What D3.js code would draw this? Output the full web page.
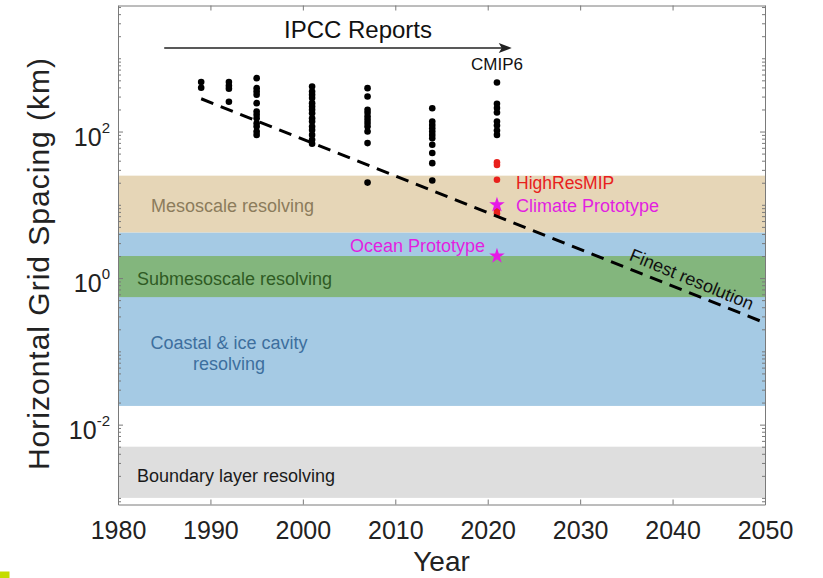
<!DOCTYPE html>
<html>
<head>
<meta charset="utf-8">
<script src="https://cdn.jsdelivr.net/npm/d3@7"></script>
<style>
  body { margin: 0; background: #fff; }
  svg text { font-family: "Liberation Sans", Arial, Helvetica, sans-serif; }
</style>
</head>
<body>
<svg id="chart" width="823" height="578"></svg>
<script>
// ---- data ----
const yearTicks = [1980, 1990, 2000, 2010, 2020, 2030, 2040, 2050];
const labelledExponents = [-2, 0, 2];

// CMIP model resolutions (km) per IPCC report year
const reportYears = [1989, 1992, 1995, 2001, 2007, 2014, 2021];
const cmipSpacing = [
  [475, 395],
  [475, 420, 385, 255],
  [535, 391, 351, 317, 244, 187, 169, 152, 130, 117, 100, 90],
  [411, 351, 317, 286, 244, 219, 198, 178, 152, 137, 117, 105, 90, 77, 68],
  [391, 300, 198, 180, 160, 145, 131, 117, 100, 69.5, 20.1],
  [208, 137, 123, 111, 100, 90, 81, 66, 51, 37, 21.5],
  [466, 239, 209, 182, 137, 121, 103, 90]
];

const highResYear = 2021;
const highResSpacing = [38, 35, 22, 8.3, 7.6];

const prototypeNames = ["Climate Prototype", "Ocean Prototype"];
const prototypeYear = 2021;
const prototypeSpacing = [10, 2];

// resolution regimes (km)
const regimeNames = ["Coastal & ice cavity resolving", "Mesoscale resolving", "Submesoscale resolving", "Boundary layer resolving"];
const regimeLow  = [0.018, 4.2, 0.55, 0.001];
const regimeHigh = [4.2, 25, 2, 0.005];

// finest-resolution trend
const trendYears = [1989, 2050];
const trendSpacing = [280, 0.245];

// IPCC report arrow span
const ipccArrowYears = [1985, 2022.6];

// ---- layout ----
const svg = d3.select("#chart");
const plotLeft = 118, plotRight = 765, plotTop = 5.5, plotBottom = 504.5;

const x = d3.scaleLinear().domain([1980, 2050]).range([plotLeft, plotRight]);
const y = d3.scaleLog().domain([Math.pow(10, -3.09), Math.pow(10, 3.72)]).range([plotBottom, plotTop]);

const regimeFill = ["#a5cae4", "#e6d6b7", "#83b67d", "#dedede"];
const regimeText = ["#3d6f9e", "#8c7c5c", "#2f5b24", "#1a1a1a"];

// regime bands
svg.append("g").selectAll("rect")
  .data(regimeNames)
  .join("rect")
  .attr("x", plotLeft)
  .attr("width", plotRight - plotLeft)
  .attr("y", (d, i) => y(regimeHigh[i]))
  .attr("height", (d, i) => y(regimeLow[i]) - y(regimeHigh[i]))
  .attr("fill", (d, i) => regimeFill[i]);

// regime labels
const lab = svg.append("g").attr("font-size", 18);
lab.append("text").attr("x", 151).attr("y", 211.5).attr("fill", regimeText[1]).text(regimeNames[1]);
lab.append("text").attr("x", 137).attr("y", 285).attr("fill", regimeText[2]).text(regimeNames[2]);
const coastal = lab.append("text").attr("text-anchor", "middle").attr("fill", regimeText[0]);
coastal.append("tspan").attr("x", 229).attr("y", 349).text("Coastal & ice cavity");
coastal.append("tspan").attr("x", 229).attr("y", 370).text("resolving");
lab.append("text").attr("x", 137).attr("y", 481.5).attr("fill", regimeText[3]).text(regimeNames[3]);

// axes frame and ticks
const axisColor = "#7a7a7a";
function styleAxis(g) {
  g.select(".domain").attr("stroke", axisColor);
  g.selectAll(".tick line").attr("stroke", axisColor);
  g.selectAll(".tick text").attr("fill", "#222").attr("font-family", "Liberation Sans, Arial, sans-serif");
}

const minorValues = [];
for (let e = -4; e <= 3; e++) {
  for (let m = 1; m <= 9; m++) {
    const v = m * Math.pow(10, e);
    if (v >= y.domain()[0] && v <= y.domain()[1] && !(m === 1 && labelledExponents.includes(e))) minorValues.push(v);
  }
}
const majorY = labelledExponents.map(e => Math.pow(10, e));

// bottom axis
svg.append("g").attr("transform", `translate(0,${plotBottom})`)
  .call(d3.axisBottom(x).tickValues(yearTicks).tickFormat(d3.format("d")).tickSizeInner(-5).tickSizeOuter(0).tickPadding(17))
  .call(g => { styleAxis(g); g.selectAll(".tick text").attr("font-size", 25); });
// top axis (mirror)
svg.append("g").attr("transform", `translate(0,${plotTop})`)
  .call(d3.axisTop(x).tickValues(yearTicks).tickFormat("").tickSizeInner(-5).tickSizeOuter(0))
  .call(styleAxis);

// left axis
svg.append("g").attr("transform", `translate(${plotLeft},0)`)
  .call(d3.axisLeft(y).tickValues(majorY).tickFormat(() => "10").tickSizeInner(-5).tickSizeOuter(0).tickPadding(8))
  .call(g => {
    styleAxis(g);
    g.selectAll(".tick text").attr("font-size", 25).attr("dy", "0.55em")
      .append("tspan").attr("font-size", 15).attr("dy", -13)
      .text(d => String(Math.round(Math.log10(d))));
  });
svg.append("g").attr("transform", `translate(${plotLeft},0)`)
  .call(d3.axisLeft(y).tickValues(minorValues).tickFormat("").tickSizeInner(-3).tickSizeOuter(0))
  .call(styleAxis);
// right axis (mirror)
svg.append("g").attr("transform", `translate(${plotRight},0)`)
  .call(d3.axisRight(y).tickValues(majorY).tickFormat("").tickSizeInner(-5).tickSizeOuter(0))
  .call(styleAxis);
svg.append("g").attr("transform", `translate(${plotRight},0)`)
  .call(d3.axisRight(y).tickValues(minorValues).tickFormat("").tickSizeInner(-3).tickSizeOuter(0))
  .call(styleAxis);

// axis titles
svg.append("text").attr("x", (plotLeft + plotRight) / 2).attr("y", 571)
  .attr("text-anchor", "middle").attr("font-size", 28).attr("fill", "#222").text("Year");
svg.append("text").attr("transform", `translate(49,263.5) rotate(-90)`)
  .attr("text-anchor", "middle").attr("font-size", 30).attr("letter-spacing", 1)
  .attr("fill", "#222").text("Horizontal Grid Spacing (km)");

// CMIP points
const pts = [];
reportYears.forEach((yr, i) => cmipSpacing[i].forEach(v => pts.push([yr, v])));
svg.append("g").selectAll("circle")
  .data(pts).join("circle")
  .attr("cx", d => x(d[0])).attr("cy", d => y(d[1])).attr("r", 3.3).attr("fill", "#000");

// HighResMIP points
svg.append("g").selectAll("circle")
  .data(highResSpacing).join("circle")
  .attr("cx", x(highResYear)).attr("cy", d => y(d)).attr("r", 3.3).attr("fill", "#e8201c");

// finest-resolution trend
svg.append("path")
  .datum(trendYears.map((t, i) => [t, trendSpacing[i]]))
  .attr("d", d3.line().x(d => x(d[0])).y(d => y(d[1])))
  .attr("fill", "none").attr("stroke", "#000").attr("stroke-width", 3)
  .attr("stroke-dasharray", "13,8");

// trend label along the line
{
  const x0 = x(trendYears[0]), y0 = y(trendSpacing[0]);
  const x1 = x(trendYears[1]), y1 = y(trendSpacing[1]);
  const ang = Math.atan2(y1 - y0, x1 - x0) * 180 / Math.PI + 0.8;
  const t = 2035.0;
  const frac = (t - trendYears[0]) / (trendYears[1] - trendYears[0]);
  const logv = Math.log10(trendSpacing[0]) + frac * (Math.log10(trendSpacing[1]) - Math.log10(trendSpacing[0]));
  const px = x(t), py = y(Math.pow(10, logv));
  svg.append("text")
    .attr("transform", `translate(${px + 2},${py - 8}) rotate(${ang})`)
    .attr("font-size", 18).attr("fill", "#111").text("Finest resolution");
}

// prototype stars
svg.append("g").selectAll("path")
  .data(prototypeSpacing).join("path")
  .attr("transform", d => `translate(${x(prototypeYear)},${y(d)})`)
  .attr("d", d3.symbol().type(d3.symbolStar).size(75))
  .attr("fill", "#e619e6");

// annotations
const ann = svg.append("g").attr("font-size", 18);
ann.append("text").attr("x", 516).attr("y", 189).attr("font-size", 17.5).attr("fill", "#e8201c").text("HighResMIP");
ann.append("text").attr("x", 516).attr("y", 211.5).attr("fill", "#e21fe0").text(prototypeNames[0]);
ann.append("text").attr("x", 485).attr("y", 251.5).attr("text-anchor", "end").attr("fill", "#e21fe0").text(prototypeNames[1]);
ann.append("text").attr("x", x(2021)).attr("y", 70).attr("text-anchor", "middle").attr("font-size", 17).attr("fill", "#111").text("CMIP6");

// IPCC reports arrow
{
  const ay = 48;
  const xa = x(ipccArrowYears[0]), xb = x(ipccArrowYears[1]);
  svg.append("line").attr("x1", xa).attr("x2", xb - 6).attr("y1", ay).attr("y2", ay)
    .attr("stroke", "#222").attr("stroke-width", 1.6);
  svg.append("path").attr("d", `M${xb},${ay} L${xb - 13},${ay - 5} L${xb - 10},${ay} L${xb - 13},${ay + 5} Z`)
    .attr("fill", "#222");
  svg.append("text").attr("x", 358).attr("y", 37.5).attr("text-anchor", "middle")
    .attr("font-size", 24).attr("fill", "#111").text("IPCC Reports");
}

// corner marker
svg.append("rect").attr("x", 0).attr("y", 571.5).attr("width", 9.5).attr("height", 6.5).attr("fill", "#c4dc00");
</script>
</body>
</html>
